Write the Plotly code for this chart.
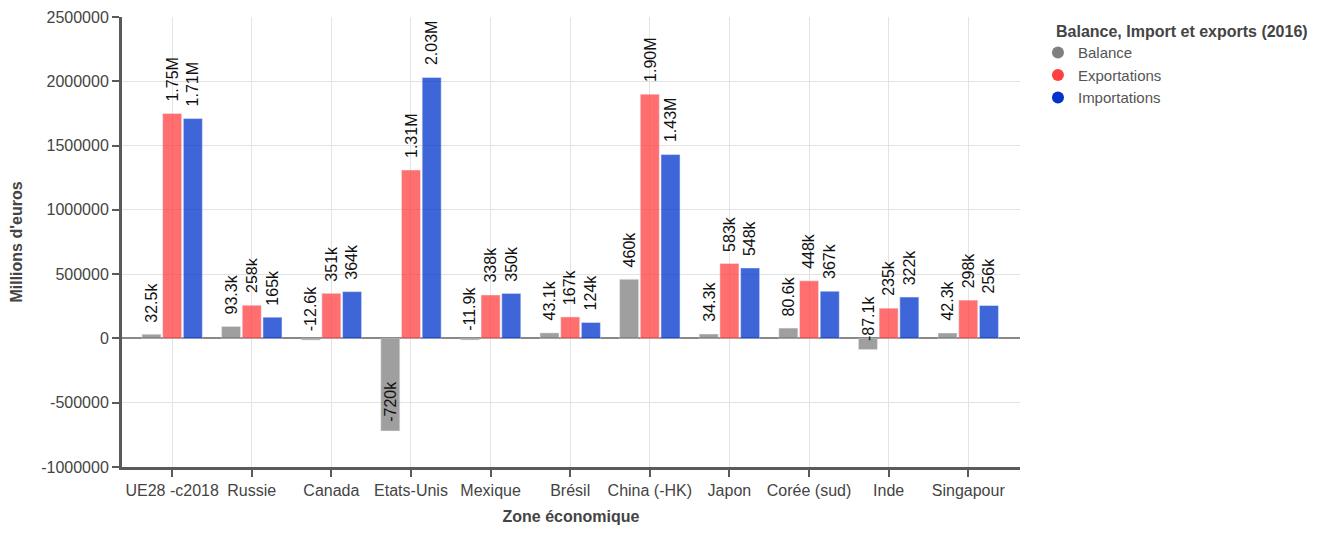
import plotly.graph_objects as go

categories = ["UE28 -c2018", "Russie", "Canada", "Etats-Unis", "Mexique", "Brésil",
              "China (-HK)", "Japon", "Corée (sud)", "Inde", "Singapour"]
balance = [32500, 93300, -12600, -720000, -11900, 43100, 460000, 34300, 80600, -87100, 42300]
exportations = [1750000, 258000, 351000, 1310000, 338000, 167000, 1900000, 583000, 448000, 235000, 298000]
importations = [1710000, 165000, 364000, 2030000, 350000, 124000, 1430000, 548000, 367000, 322000, 256000]
y_ticks = [-1000000, -500000, 0, 500000, 1000000, 1500000, 2000000, 2500000]

series = [("Balance", balance, "#808080"),
          ("Exportations", exportations, "#ff4040"),
          ("Importations", importations, "#0033cc")]

FONT = "Liberation Sans, Arial, sans-serif"


def fmt3s(v):
    a = abs(v)
    if a >= 1e6:
        s, u = a / 1e6, "M"
    elif a >= 1e3:
        s, u = a / 1e3, "k"
    else:
        s, u = a, ""
    if s >= 100:
        t = f"{s:.0f}"
    elif s >= 10:
        t = f"{s:.1f}"
    else:
        t = f"{s:.2f}"
    return ("-" if v < 0 else "") + t + u


fig = go.Figure()
n = len(series)
for k, (name, vals, col) in enumerate(series):
    fig.add_trace(go.Bar(x=categories, y=vals, name=name, marker_color=col,
                         opacity=0.75, showlegend=False, offsetgroup=str(k),
                         hoverinfo="x+y"))
    # legend entries with circular markers
    fig.add_trace(go.Scatter(x=[categories[0]], y=[None], mode="markers", name=name,
                             marker=dict(symbol="circle", size=14, color=col),
                             showlegend=True, hoverinfo="skip"))

bargap = 0.22
bargroupgap = 0.08
slot = (1 - bargap) / n
annotations = []
for k, (name, vals, col) in enumerate(series):
    offset = -(1 - bargap) / 2 + slot * (k + 0.5)
    for i, v in enumerate(vals):
        annotations.append(dict(x=i + offset, y=v, xref="x", yref="y",
                                text=fmt3s(v), textangle=-90, showarrow=False,
                                xanchor="center", yanchor="bottom",
                                yshift=10 if v >= 0 else 7,
                                font=dict(family=FONT, size=16, color="#111")))

annotations.append(dict(x=1.038, y=0.9667, xref="paper", yref="paper",
                        text="<b>Balance, Import et exports (2016)</b>", showarrow=False,
                        xanchor="left", yanchor="middle",
                        font=dict(family=FONT, size=16, color="#444")))

fig.update_layout(
    width=1330, height=534,
    margin=dict(l=114, r=318, t=9, b=75, autoexpand=False),
    paper_bgcolor="white", plot_bgcolor="white",
    barmode="group", bargap=bargap, bargroupgap=bargroupgap,
    font=dict(family=FONT, size=16, color="#444"),
    annotations=annotations,
    legend=dict(x=1.020, y=0.957, xanchor="left", yanchor="top",
                font=dict(family=FONT, size=15, color="#555"),
                itemsizing="constant", tracegroupgap=0),
)
fig.update_xaxes(
    type="category", range=[-0.63, 10.65], automargin=False,
    title=dict(text="<b>Zone économique</b>", font=dict(family=FONT, size=16, color="#444"), standoff=13),
    showgrid=True, gridcolor="#e3e3e3", gridwidth=1,
    showline=True, linecolor="#5a5a5a", linewidth=3,
    ticks="outside", ticklen=7, tickcolor="#5a5a5a", tickwidth=2,
    tickfont=dict(family=FONT, size=16, color="#444"),
)
fig.update_yaxes(
    range=[-1000000, 2500000], automargin=False,
    tickvals=y_ticks, ticktext=[str(v) for v in y_ticks],
    title=dict(text="<b>Millions d'euros</b>", font=dict(family=FONT, size=16, color="#444"), standoff=16),
    showgrid=True, gridcolor="#e3e3e3", gridwidth=1,
    zeroline=True, zerolinecolor="#888", zerolinewidth=1.5,
    showline=True, linecolor="#5a5a5a", linewidth=3,
    ticks="outside", ticklen=7, tickcolor="#5a5a5a", tickwidth=2,
    tickfont=dict(family=FONT, size=16, color="#444"),
)

fig.write_html("out.html")
